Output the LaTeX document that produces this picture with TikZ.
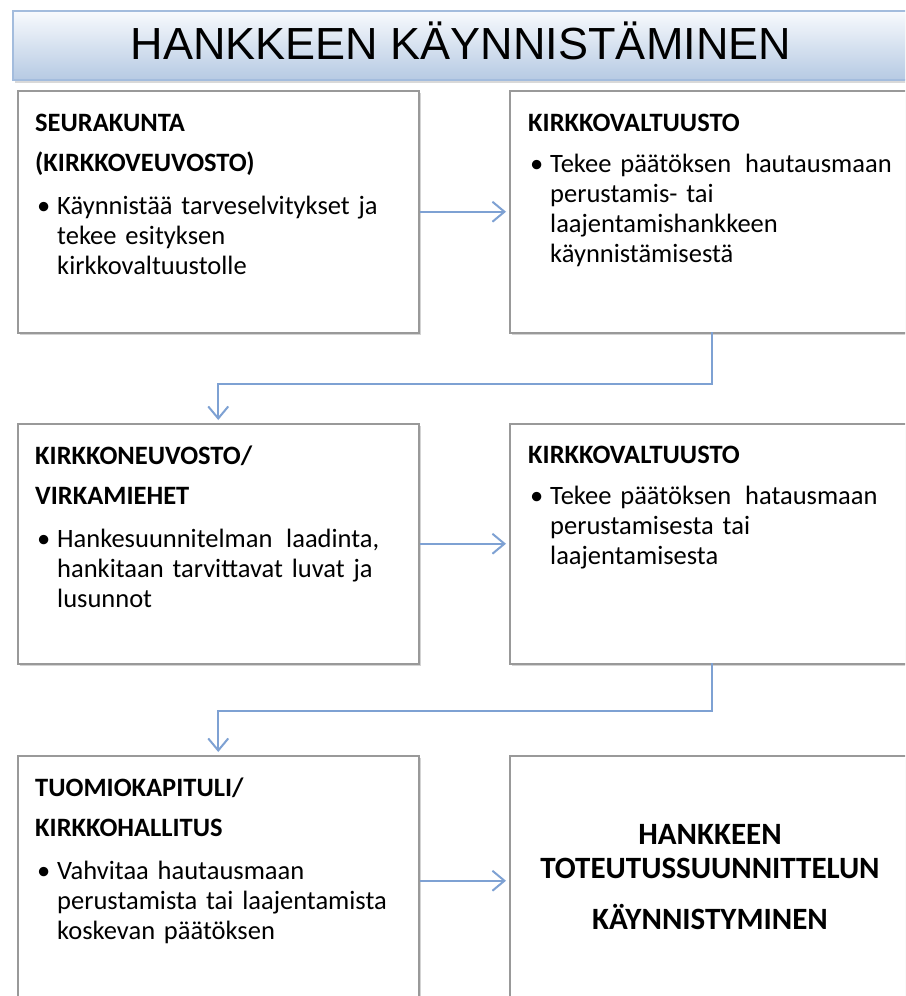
\documentclass[tikz,border=0pt]{standalone}
\usepackage{fontspec}
\setmainfont{Carlito}
\newfontfamily\titlefont{Liberation Sans}
\usepackage{tikz}
\usetikzlibrary{arrows.meta}
\usetikzlibrary{shadows}

\definecolor{linkblue}{HTML}{7EA1D3}
\definecolor{bannertop}{HTML}{F8FAFD}
\definecolor{bannerbot}{HTML}{B6CAE3}
\definecolor{bannerline}{HTML}{A3BCDD}

\newcommand{\bul}{\hspace*{2pt}\makebox[20pt][l]{\textbullet}}
\newcommand{\ind}{\hspace*{22pt}}

\begin{document}
\begin{tikzpicture}[x=1pt,y=-1pt,
	box/.style={draw=black!40, line width=1.5pt, fill=white, inner sep=0pt, anchor=north west,
		drop shadow={shadow xshift=2pt, shadow yshift=-2pt, opacity=0.35, fill=black!50}},
	txt/.style={anchor=base west, inner sep=0pt, text width=375pt, align=left,
		font=\fontsize{26.5}{30}\selectfont},
	arr/.style={draw=linkblue, line width=2pt, shorten >=3pt, -{Straight Barb[length=12pt,width=20pt]}}]
				\useasboundingbox (0,0) rectangle (905,996);
				\clip (0,0) rectangle (905,996);
				
				\node[draw=bannerline, line width=1.5pt, top color=bannertop, bottom color=bannerbot,
					minimum width=940pt, minimum height=69pt, inner sep=0pt, anchor=north west,
					drop shadow={shadow xshift=2pt, shadow yshift=-3pt, opacity=0.3, fill=black!50}] (banner) at (12,10) {};
				\node[anchor=base, inner sep=0pt, font=\titlefont\fontsize{45}{54}\selectfont] (title) at (461,59) {HANKKEEN KÄYNNISTÄMINEN};
				
				\node[box, minimum width=401pt, minimum height=242pt] (b1) at (17,90) {};
				\node[box, minimum width=440pt, minimum height=242pt] (b2) at (509,90) {};
				\node[box, minimum width=401pt, minimum height=240pt] (b3) at (17,423) {};
				\node[box, minimum width=440pt, minimum height=240pt] (b4) at (509,423) {};
				\node[box, minimum width=401pt, minimum height=250pt] (b5) at (17,755) {};
				\node[box, minimum width=440pt, minimum height=250pt] (b6) at (509,755) {};
				\coordinate (d2) at (712,332);
				\coordinate (d4) at (712,663);
				
				\node[txt] (t1) at ([xshift=18pt,yshift=-41pt]b1.north west) {\textbf{SEURAKUNTA}\\[10pt]
					\textbf{(KIRKKOVEUVOSTO)}\\[13pt]
					\bul Käynnistää tarveselvitykset ja\\
					\ind tekee esityksen\\
					\ind kirkkovaltuustolle};
				\node[txt] (t2) at ([xshift=19pt,yshift=-41pt]b2.north west) {\textbf{KIRKKOVALTUUSTO}\\[11pt]
					\bul Tekee päätöksen\hspace{5pt} hautausmaan\\
					\ind perustamis- tai\\
					\ind laajentamishankkeen\\
					\ind käynnistämisestä};
				\node[txt] (t3) at ([xshift=18pt,yshift=-41pt]b3.north west) {\textbf{KIRKKONEUVOSTO/}\\[10pt]
					\textbf{VIRKAMIEHET}\\[13pt]
					\bul Hankesuunnitelman\hspace{5pt} laadinta,\\
					\ind hankitaan tarvittavat luvat ja\\
					\ind lusunnot};
				\node[txt] (t4) at ([xshift=19pt,yshift=-40pt]b4.north west) {\textbf{KIRKKOVALTUUSTO}\\[11pt]
					\bul Tekee päätöksen\hspace{5pt} hatausmaan\\
					\ind perustamisesta tai\\
					\ind laajentamisesta};
				\node[txt] (t5) at ([xshift=18pt,yshift=-41pt]b5.north west) {\textbf{TUOMIOKAPITULI/}\\[10pt]
					\textbf{KIRKKOHALLITUS}\\[13pt]
					\bul Vahvitaa hautausmaan\\
					\ind perustamista tai laajentamista\\
					\ind koskevan päätöksen};
				\node[anchor=base, inner sep=0pt, text width=380pt, align=center,
					font=\bfseries\fontsize{31}{34}\selectfont] (t6) at (710,844) {HANKKEEN\\
					TOTEUTUSSUUNNITTELUN\\[17pt]
					KÄYNNISTYMINEN};
				
				\draw[arr] (b1.east) -- (b2.west);
				\draw[arr] (d2) -- ++(0,52) -| (b3.north);
				\draw[arr] (b3.east) -- (b4.west);
				\draw[arr] (d4) -- ++(0,48) -| (b5.north);
				\draw[arr] (b5.east) -- (b5.east -| b6.west);
			\end{tikzpicture}
\end{document}
